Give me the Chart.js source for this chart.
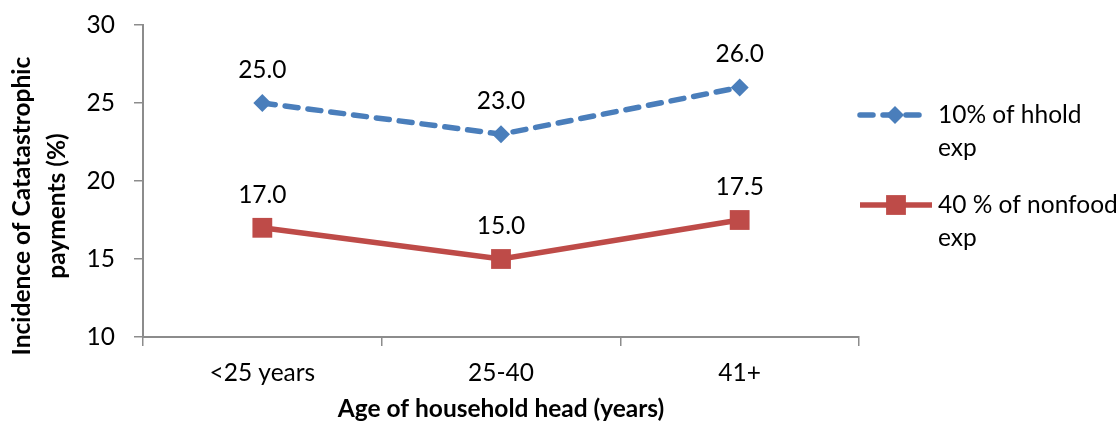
<!DOCTYPE html>
<html>
<head>
<meta charset="utf-8">
<script src="https://cdn.jsdelivr.net/npm/chart.js@4"></script>
<style>
  html, body { margin: 0; padding: 0; background: #fff; }
  #wrap { width: 1117px; height: 421px; }
</style>
</head>
<body>
<div id="wrap"><canvas id="c" width="1117" height="421"></canvas></div>
<script>
// Age groups of the household head
const categories = ['<25 years', '25-40', '41+'];
// Catastrophic payment incidence (%) by threshold
const hholdExp10 = [25.0, 23.0, 26.0];
const nonfoodExp40 = [17.0, 15.0, 17.5];
const seriesNames = [['10% of hhold', 'exp'], ['40 % of nonfood', 'exp']];
const yTicks = [10, 15, 20, 25, 30];
const yTitle = ['Incidence of Catatastrophic', 'payments (%)'];
const xTitle = 'Age of household head (years)';

const FONT = 'Lato, "Open Sans", sans-serif';
const FS = 24.5;
const AXIS_GRAY = '#8C8C8C';
const BLUE = '#4A7EBB';
const RED = '#BE4B48';

// Value labels drawn above each point
const valueLabels = {
  id: 'valueLabels',
  afterDatasetsDraw(chart) {
    const ctx = chart.ctx;
    ctx.save();
    ctx.font = FS + 'px ' + FONT;
    ctx.fillStyle = '#000';
    ctx.textAlign = 'center';
    ctx.textBaseline = 'middle';
    chart.data.datasets.forEach((ds, i) => {
      chart.getDatasetMeta(i).data.forEach((pt, j) => {
        ctx.fillText(ds.data[j].toFixed(1), pt.x, pt.y - 33);
      });
    });
    ctx.restore();
  }
};

// Two-line vertical title beside the value axis
const yAxisTitle = {
  id: 'yAxisTitle',
  afterDraw(chart) {
    const ctx = chart.ctx;
    ctx.save();
    ctx.font = 'bold ' + FS + 'px ' + FONT;
    ctx.fillStyle = '#000';
    ctx.textAlign = 'center';
    ctx.textBaseline = 'middle';
    ctx.translate(0, 206);
    ctx.rotate(-Math.PI / 2);
    yTitle.forEach((line, k) => ctx.fillText(line, 0, 22 + k * 35));
    ctx.restore();
  }
};

// Legend at the right with wrapped series names
const sideLegend = {
  id: 'sideLegend',
  afterDraw(chart) {
    const ctx = chart.ctx;
    const items = [
      { y: 115, x1: 860, x2: 922, mx: 895 },
      { y: 205, x1: 860, x2: 932, mx: 896 }
    ];
    ctx.save();
    chart.data.datasets.forEach((ds, i) => {
      const it = items[i];
      ctx.strokeStyle = ds.borderColor;
      ctx.lineWidth = ds.borderWidth;
      ctx.lineCap = ds.borderCapStyle || 'butt';
      ctx.setLineDash(ds.borderDash || []);
      ctx.beginPath();
      ctx.moveTo(it.x1, it.y);
      ctx.lineTo(it.x2, it.y);
      ctx.stroke();
      ctx.setLineDash([]);
      ctx.fillStyle = ds.pointBackgroundColor;
      ctx.beginPath();
      if (ds.pointStyle === 'rectRot') {
        const r = ds.pointRadius;
        ctx.moveTo(it.mx, it.y - r); ctx.lineTo(it.mx + r, it.y);
        ctx.lineTo(it.mx, it.y + r); ctx.lineTo(it.mx - r, it.y);
        ctx.closePath();
      } else {
        const s = ds.pointRadius * Math.SQRT1_2;
        ctx.rect(it.mx - s, it.y - s, 2 * s, 2 * s);
      }
      ctx.fill();
      ctx.fillStyle = '#000';
      ctx.font = FS + 'px ' + FONT;
      ctx.textAlign = 'left';
      ctx.textBaseline = 'middle';
      seriesNames[i].forEach((line, k) => {
        ctx.fillText(line, 938, it.y + k * 33);
      });
    });
    ctx.restore();
  }
};

new Chart(document.getElementById('c'), {
  type: 'line',
  data: {
    labels: categories,
    datasets: [
      {
        label: seriesNames[0].join(' '),
        data: hholdExp10,
        borderColor: BLUE,
        backgroundColor: BLUE,
        pointBackgroundColor: BLUE,
        pointBorderColor: BLUE,
        borderWidth: 5.5,
        borderDash: [13, 10],
        borderCapStyle: 'round',
        pointStyle: 'rectRot',
        pointRadius: 9,
        pointBorderWidth: 0,
        tension: 0
      },
      {
        label: seriesNames[1].join(' '),
        data: nonfoodExp40,
        borderColor: RED,
        backgroundColor: RED,
        pointBackgroundColor: RED,
        pointBorderColor: RED,
        borderWidth: 5.5,
        pointStyle: 'rect',
        pointRadius: 14,
        pointBorderWidth: 0,
        tension: 0
      }
    ]
  },
  plugins: [valueLabels, yAxisTitle, sideLegend],
  options: {
    responsive: false,
    animation: false,
    events: [],
    layout: { padding: { top: 25, right: 258, left: 0, bottom: 0 } },
    plugins: {
      legend: { display: false },
      tooltip: { enabled: false }
    },
    scales: {
      x: {
        offset: true,
        grid: {
          offset: true,
          drawOnChartArea: false,
          drawTicks: true,
          tickLength: 9,
          color: AXIS_GRAY,
          lineWidth: 1.5
        },
        border: { color: AXIS_GRAY, width: 2 },
        ticks: { color: '#000', font: { family: FONT, size: FS }, padding: 12 },
        title: {
          display: true,
          text: xTitle,
          color: '#000',
          font: { family: FONT, size: FS, weight: 'bold', lineHeight: 1 },
          padding: { top: 0, bottom: 0 }
        },
        afterFit(scale) {
          scale.height = 84;
          scale.paddingLeft = 0;
          scale.paddingRight = 0;
        }
      },
      y: {
        min: 10,
        max: 30,
        afterBuildTicks(scale) { scale.ticks = yTicks.map(v => ({ value: v })); },
        grid: {
          drawOnChartArea: false,
          drawTicks: true,
          tickLength: 9,
          color: AXIS_GRAY,
          lineWidth: 1.5
        },
        border: { color: AXIS_GRAY, width: 2 },
        ticks: { color: '#000', font: { family: FONT, size: FS }, padding: 19 },
        afterFit(scale) {
          scale.width = 143;
          scale.paddingTop = 0;
          scale.paddingBottom = 0;
        }
      }
    }
  }
});
</script>
</body>
</html>
